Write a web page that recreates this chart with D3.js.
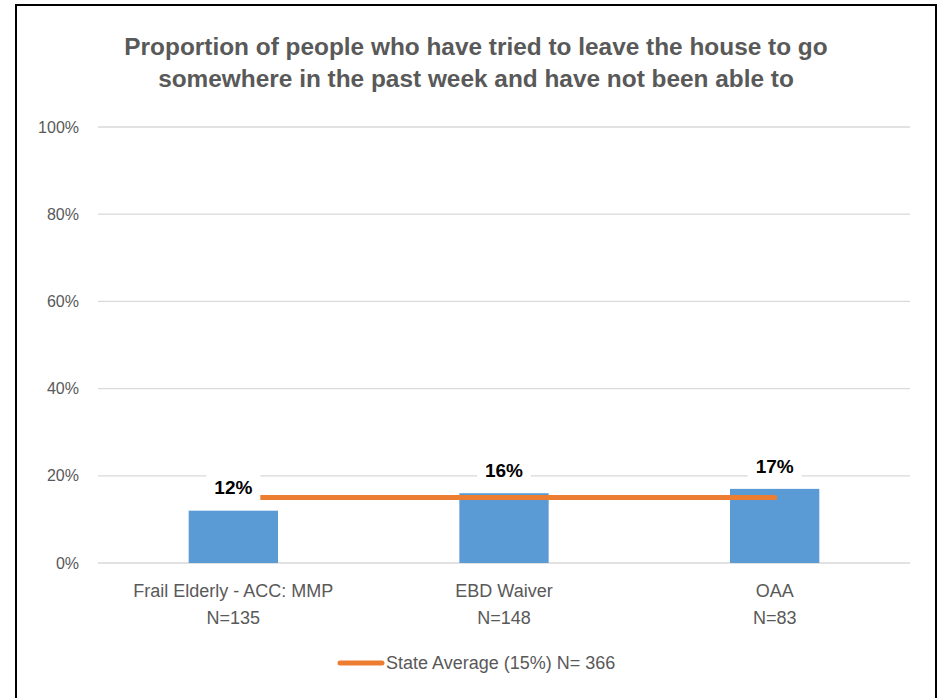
<!DOCTYPE html>
<html><head><meta charset="utf-8">
<script src="https://cdn.jsdelivr.net/npm/d3@7"></script>
<style>body{margin:0;background:#fff;} text{font-family:"Liberation Sans",Arial,sans-serif;}</style>
</head><body>
<svg id="c" width="939" height="698"></svg>
<script>
const titleLines = ["Proportion of people who have tried to leave the house to go",
                    "somewhere in the past week and have not been able to"];
const categories = ["Frail Elderly - ACC: MMP", "EBD Waiver", "OAA"];
const sampleSizes = ["N=135", "N=148", "N=83"];
const values = [0.12, 0.16, 0.17];
const stateAverage = [0.15, 0.15, 0.15];
const yTicks = [0, 0.2, 0.4, 0.6, 0.8, 1.0];
const legendLabel = "State Average (15%) N= 366";

const svg = d3.select("#c");
const grey = "#595959";

svg.append("rect").attr("x", 16).attr("y", 5).attr("width", 920).attr("height", 700)
  .attr("fill", "#fff").attr("stroke", "#000").attr("stroke-width", 2);

const x = d3.scaleBand().domain(categories).range([98, 910]).paddingInner(0).paddingOuter(0);
const y = d3.scaleLinear().domain([0, 1]).range([563, 127]);

// title
svg.selectAll(".title").data(titleLines).enter().append("text")
  .attr("x", 476).attr("y", (d, i) => 55 + i * 32)
  .attr("text-anchor", "middle").attr("font-size", 24.4).attr("font-weight", "bold")
  .attr("fill", grey).text(d => d);

// gridlines
svg.append("g").selectAll("line").data(yTicks).enter().append("line")
  .attr("x1", 98).attr("x2", 910).attr("y1", d => y(d)).attr("y2", d => y(d))
  .attr("stroke", "#d9d9d9").attr("stroke-width", 1.3);

// y axis labels
const yAxis = d3.axisLeft(y).tickValues(yTicks).tickFormat(d3.format(".0%")).tickSize(0).tickPadding(19);
const ya = svg.append("g").attr("transform", "translate(98,0)").call(yAxis);
ya.select(".domain").remove();
ya.selectAll("text").attr("font-size", 16).attr("fill", grey)
  .style("font-family", '"Liberation Sans",Arial,sans-serif');

// bars
const bw = x.bandwidth() * 0.33;
svg.append("g").selectAll("rect").data(values).enter().append("rect")
  .attr("x", (d, i) => x(categories[i]) + x.bandwidth() / 2 - bw / 2)
  .attr("width", bw)
  .attr("y", d => y(d)).attr("height", d => y(0) - y(d))
  .attr("fill", "#5b9bd5");

// state average line
const line = d3.line().x((d, i) => x(categories[i]) + x.bandwidth() / 2).y(d => y(d));
svg.append("path").datum(stateAverage).attr("d", line)
  .attr("fill", "none").attr("stroke", "#ed7d31").attr("stroke-width", 5).attr("stroke-linecap", "round");

// data labels
const lg = svg.append("g").selectAll("g").data(values).enter().append("g")
  .attr("transform", (d, i) => `translate(${x(categories[i]) + x.bandwidth() / 2},${y(d) - 23})`);
lg.append("rect").attr("x", -27).attr("y", -13).attr("width", 54).attr("height", 26).attr("fill", "#fff");
lg.append("text").attr("text-anchor", "middle").attr("dy", "0.35em")
  .attr("font-size", 19).attr("font-weight", "bold").attr("fill", "#000")
  .text(d => d3.format(".0%")(d));

// category labels
const cl = svg.append("g").selectAll("text").data(categories).enter().append("text")
  .attr("x", d => x(d) + x.bandwidth() / 2).attr("y", 597)
  .attr("text-anchor", "middle").attr("font-size", 18).attr("fill", grey);
cl.append("tspan").text(d => d);
cl.append("tspan").attr("x", d => x(d) + x.bandwidth() / 2).attr("dy", 27).text((d, i) => sampleSizes[i]);

// legend
svg.append("line").attr("x1", 340).attr("x2", 382).attr("y1", 663).attr("y2", 663)
  .attr("stroke", "#ed7d31").attr("stroke-width", 5).attr("stroke-linecap", "round");
svg.append("text").attr("x", 386).attr("y", 669).attr("font-size", 18).attr("fill", grey).text(legendLabel);
</script>
</body></html>
